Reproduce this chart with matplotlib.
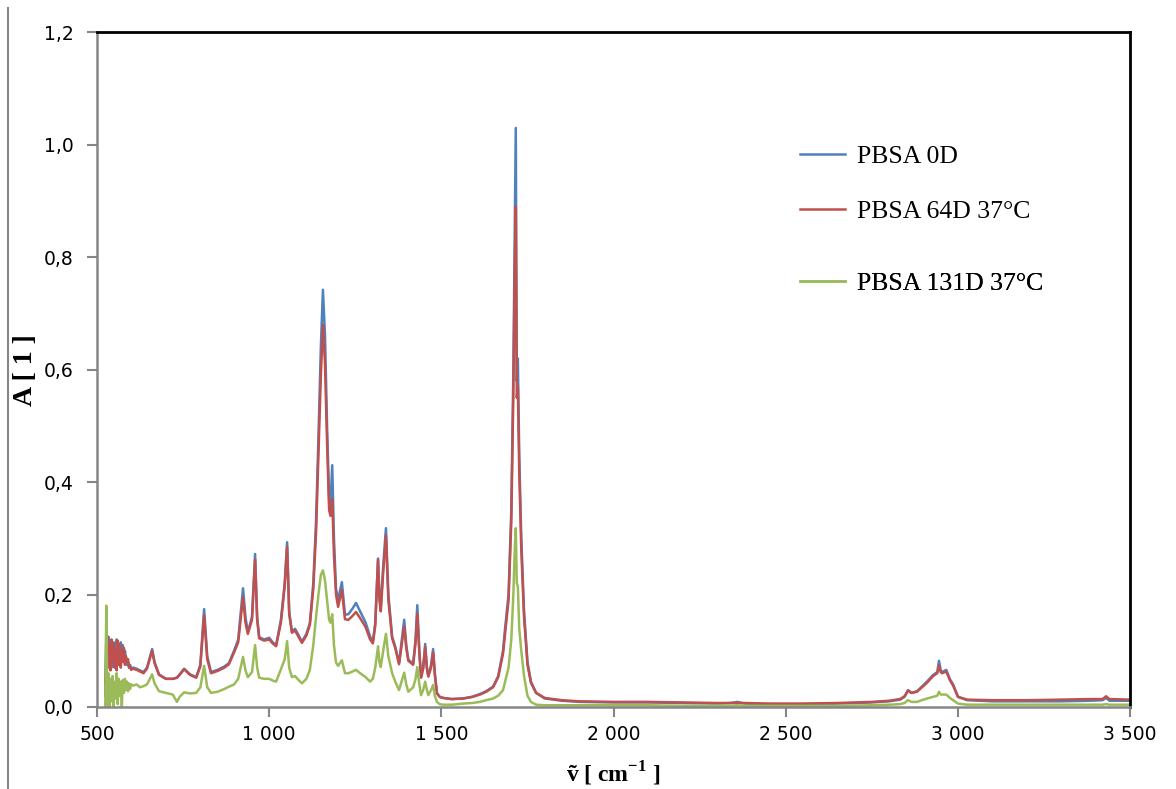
import matplotlib
matplotlib.use("Agg")
import matplotlib.pyplot as plt
from matplotlib.lines import Line2D
from matplotlib.ticker import FuncFormatter

# wavenumber grid shared by the three spectra (cm-1)
wavenumber = [
    524, 527, 530, 533, 536, 539, 542, 545, 548, 551,
    554, 557, 560, 563, 566, 569, 572, 575, 578, 581,
    584, 587, 590, 593, 596, 599,
    605, 615, 625, 635, 645, 652, 660, 667, 680, 700,
    720, 732, 740, 753, 770, 788, 800, 811, 820, 831,
    850, 870, 883, 898, 910, 924, 931, 938, 950, 959,
    965, 971, 985, 1000, 1010, 1020, 1034, 1045, 1052, 1058,
    1066, 1075, 1085, 1095, 1108, 1118, 1128, 1136, 1143, 1150,
    1156, 1162, 1168, 1174, 1178, 1183, 1188, 1194, 1200, 1211,
    1220, 1230, 1242, 1252, 1264, 1280, 1293, 1301, 1308, 1316,
    1320, 1324, 1331, 1339, 1346, 1357, 1366, 1377, 1392, 1398,
    1404, 1418, 1425, 1430, 1436, 1441, 1447, 1453, 1458, 1462,
    1470, 1476, 1481, 1487, 1495, 1505, 1530, 1563, 1590, 1612,
    1630, 1650, 1665, 1679, 1685, 1695, 1703, 1709, 1713, 1716,
    1719, 1722, 1726, 1732, 1740, 1750, 1760, 1775, 1800, 1850,
    1900, 2000, 2100, 2200, 2300, 2340, 2360, 2380, 2450, 2550,
    2650, 2750, 2800, 2832, 2845, 2855, 2865, 2881, 2890, 2910,
    2928, 2940, 2945, 2950, 2954, 2966, 2977, 2986, 3000, 3027,
    3100, 3200, 3300, 3380, 3420, 3430, 3440, 3500,
]

pbsa_0d = [
    0.04, 0.13, 0.11, 0.125, 0.08, 0.115, 0.07, 0.105, 0.085, 0.11,
    0.075, 0.12, 0.09, 0.105, 0.08, 0.115, 0.095, 0.11, 0.08, 0.1,
    0.085, 0.075, 0.08, 0.07, 0.075, 0.068,
    0.07, 0.068, 0.065, 0.062, 0.07, 0.085, 0.103, 0.08, 0.058, 0.05,
    0.05, 0.052, 0.058, 0.068, 0.058, 0.053, 0.075, 0.174, 0.09, 0.062,
    0.066, 0.072, 0.078, 0.1, 0.12, 0.211, 0.16, 0.133, 0.16, 0.272,
    0.16, 0.124, 0.12, 0.123, 0.115, 0.11, 0.155, 0.22, 0.293, 0.17,
    0.134, 0.139, 0.128, 0.116, 0.13, 0.149, 0.22, 0.33, 0.48, 0.64,
    0.742, 0.66, 0.5, 0.37, 0.36, 0.43, 0.3, 0.21, 0.19, 0.222,
    0.164, 0.165, 0.175, 0.185, 0.17, 0.15, 0.125, 0.116, 0.15, 0.264,
    0.2, 0.176, 0.25, 0.318, 0.2, 0.125, 0.107, 0.078, 0.155, 0.11,
    0.084, 0.077, 0.12, 0.181, 0.1, 0.053, 0.07, 0.112, 0.07, 0.055,
    0.075, 0.103, 0.06, 0.025, 0.018, 0.016, 0.014, 0.015, 0.018, 0.023,
    0.028, 0.036, 0.055, 0.1, 0.14, 0.2, 0.35, 0.6, 0.85, 1.03,
    0.58, 0.62, 0.45, 0.3, 0.17, 0.08, 0.045, 0.025, 0.015, 0.011,
    0.009, 0.008, 0.008, 0.007, 0.006, 0.007, 0.009, 0.006, 0.005, 0.005,
    0.006, 0.008, 0.01, 0.013, 0.018, 0.03, 0.025, 0.028, 0.033, 0.045,
    0.057, 0.062, 0.082, 0.065, 0.062, 0.066, 0.049, 0.04, 0.018, 0.012,
    0.01, 0.01, 0.01, 0.011, 0.012, 0.016, 0.011, 0.011,
]

pbsa_64d = [
    0.02, 0.09, 0.125, 0.07, 0.11, 0.065, 0.12, 0.08, 0.115, 0.07,
    0.1, 0.065, 0.118, 0.075, 0.112, 0.07, 0.1, 0.08, 0.105, 0.075,
    0.09, 0.08, 0.085, 0.07, 0.072, 0.066,
    0.068, 0.066, 0.063, 0.06, 0.068, 0.083, 0.1, 0.078, 0.057, 0.05,
    0.05, 0.052, 0.057, 0.067, 0.057, 0.052, 0.072, 0.163, 0.085, 0.06,
    0.064, 0.07, 0.076, 0.097, 0.115, 0.196, 0.15, 0.13, 0.155, 0.262,
    0.155, 0.122, 0.118, 0.12, 0.113, 0.108, 0.15, 0.215, 0.285, 0.165,
    0.132, 0.136, 0.125, 0.114, 0.127, 0.146, 0.21, 0.31, 0.45, 0.59,
    0.68, 0.61, 0.47, 0.35, 0.34, 0.37, 0.27, 0.2, 0.178, 0.208,
    0.156, 0.155, 0.162, 0.169, 0.158, 0.142, 0.12, 0.113, 0.145, 0.262,
    0.19, 0.17, 0.24, 0.305, 0.19, 0.122, 0.105, 0.076, 0.143, 0.105,
    0.082, 0.075, 0.115, 0.167, 0.095, 0.052, 0.068, 0.106, 0.067, 0.054,
    0.07, 0.097, 0.057, 0.024, 0.018, 0.016, 0.014, 0.015, 0.018, 0.022,
    0.027, 0.035, 0.053, 0.095, 0.13, 0.19, 0.33, 0.56, 0.78, 0.89,
    0.55, 0.57, 0.42, 0.28, 0.16, 0.075, 0.043, 0.025, 0.016, 0.012,
    0.01, 0.009, 0.009, 0.008, 0.007, 0.007, 0.007, 0.007, 0.006, 0.006,
    0.007, 0.009, 0.011, 0.014, 0.019, 0.029, 0.025, 0.027, 0.032, 0.043,
    0.055, 0.06, 0.074, 0.062, 0.06, 0.063, 0.047, 0.038, 0.018, 0.013,
    0.012, 0.012, 0.013, 0.014, 0.014, 0.019, 0.014, 0.013,
]

pbsa_131d = [
    0.0, 0.18, 0.0, 0.06, 0.0, 0.05, 0.01, 0.055, 0.0, 0.045,
    0.015, 0.06, 0.005, 0.05, 0.02, 0.045, 0.0, 0.048, 0.025, 0.05,
    0.03, 0.045, 0.028, 0.042, 0.032, 0.04,
    0.038, 0.04, 0.035, 0.037, 0.04, 0.048, 0.058, 0.042, 0.028, 0.025,
    0.022, 0.009, 0.018, 0.026, 0.024, 0.025, 0.035, 0.073, 0.035, 0.025,
    0.027, 0.032, 0.036, 0.04, 0.05, 0.089, 0.065, 0.053, 0.062, 0.11,
    0.07, 0.052, 0.05, 0.05, 0.047, 0.045, 0.067, 0.085, 0.117, 0.07,
    0.053, 0.055, 0.048, 0.042, 0.05, 0.066, 0.11, 0.16, 0.2, 0.235,
    0.243, 0.225, 0.19, 0.155, 0.15, 0.165, 0.11, 0.079, 0.073, 0.083,
    0.06, 0.06, 0.063, 0.066, 0.06, 0.053, 0.045, 0.05, 0.07, 0.108,
    0.08, 0.071, 0.1, 0.13, 0.09, 0.06, 0.045, 0.03, 0.061, 0.04,
    0.027, 0.035, 0.05, 0.071, 0.04, 0.021, 0.03, 0.045, 0.03, 0.021,
    0.03, 0.039, 0.02, 0.009, 0.005, 0.004, 0.004, 0.006, 0.007, 0.009,
    0.012, 0.015, 0.02, 0.03, 0.045, 0.07, 0.12, 0.2, 0.28, 0.318,
    0.22, 0.215, 0.14, 0.1, 0.055, 0.02, 0.009, 0.004, 0.003, 0.003,
    0.003, 0.003, 0.003, 0.002, 0.002, 0.002, 0.003, 0.002, 0.002, 0.002,
    0.002, 0.003, 0.004, 0.005, 0.007, 0.012, 0.009, 0.009, 0.011, 0.015,
    0.018, 0.02, 0.027, 0.022, 0.022, 0.022, 0.016, 0.012, 0.006, 0.004,
    0.004, 0.004, 0.004, 0.004, 0.004, 0.005, 0.004, 0.004,
]

series_labels = ["PBSA 0D", "PBSA 64D 37°C", "PBSA 131D 37°C"]
series_colors = ["#4F81BD", "#C0504D", "#9BBB59"]

plt.rcParams["mathtext.fontset"] = "custom"
plt.rcParams["mathtext.rm"] = "Liberation Serif"
plt.rcParams["mathtext.bf"] = "Liberation Serif:bold"

fig = plt.figure(figsize=(11.76, 7.89), dpi=100)
ax = fig.add_axes([0.0825, 0.104, 0.8785, 0.855])

lines = []
for values, label, color in zip([pbsa_0d, pbsa_64d, pbsa_131d], series_labels, series_colors):
    ln, = ax.plot(wavenumber, values, color=color, lw=1.8, label=label)
    lines.append(ln)

ax.set_xlim(500, 3500)
ax.set_ylim(0, 1.2)
ax.set_xticks(range(500, 3501, 500))
ax.set_yticks([0, 0.2, 0.4, 0.6, 0.8, 1.0, 1.2])
ax.xaxis.set_major_formatter(FuncFormatter(lambda v, p: f"{int(v):,}".replace(",", " ")))
ax.yaxis.set_major_formatter(FuncFormatter(lambda v, p: f"{v:.1f}".replace(".", ",")))
ax.tick_params(direction="out", length=7, width=1.5, color="#868686", labelsize=13.5)
ax.tick_params(axis="y", pad=10)
ax.tick_params(axis="x", pad=6)

# excel-like frame: gray axes, black top/right
for side in ["left", "bottom"]:
    ax.spines[side].set_color("#868686")
    ax.spines[side].set_linewidth(1.8)
for side in ["top", "right"]:
    ax.spines[side].set_color("black")
    ax.spines[side].set_linewidth(2)

ax.set_ylabel("A [ 1 ]", family="Liberation Serif", fontweight="bold", fontsize=20, labelpad=4)
ax.set_xlabel(r"ṽ [ cm$^{\mathbf{-1}}$ ]", family="Liberation Serif", fontweight="bold",
              fontsize=17, labelpad=11)

# legend entries placed one by one (uneven row spacing as in the original)
legend_y = [0.816, 0.735, 0.627]
for ln, ly in zip(lines, legend_y):
    leg = ax.legend(handles=[ln], loc="center left", bbox_to_anchor=(0.6805, ly),
                    frameon=False, borderpad=0, borderaxespad=0,
                    prop={"family": "Liberation Serif", "size": 18.5},
                    handlelength=1.75, handletextpad=0.45)
    ax.add_artist(leg)

# gray border line on the left edge of the image
fig.add_artist(Line2D([0.007, 0.007], [0.0, 0.99], transform=fig.transFigure,
                      color="#868686", lw=1.5))

fig.savefig("out.png", dpi=100)
plt.close(fig)
